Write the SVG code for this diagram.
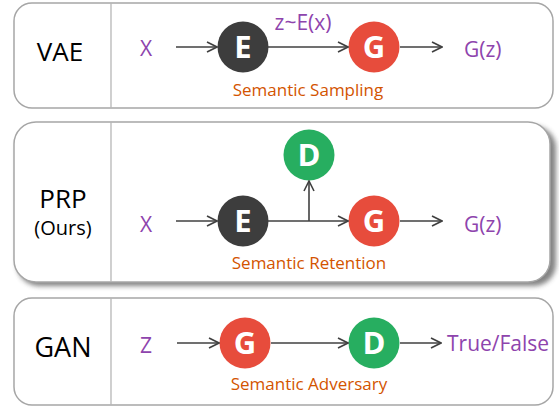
<svg xmlns="http://www.w3.org/2000/svg" width="559" height="407" viewBox="0 0 559 407">
<defs>
<marker id="arr" viewBox="0 0 12 12" refX="11" refY="6" markerWidth="12" markerHeight="12" markerUnits="userSpaceOnUse" orient="auto">
<path d="M1,1 L11,6 L1,11" fill="none" stroke="#404040" stroke-width="1.6"/>
</marker>
<filter id="sh" x="-5%" y="-10%" width="115%" height="130%">
<feGaussianBlur stdDeviation="2.5"/>
</filter>
</defs>
<style>
.box{fill:#fff;stroke:#a6a6a6;stroke-width:1.5}
.div{stroke:#b0b0b0;stroke-width:1.2}
.title{font-family:"Open Sans","Liberation Sans",sans-serif;fill:#000;text-anchor:middle}
.var{font-family:"Open Sans","Liberation Sans",sans-serif;fill:#8e44ad;font-size:21px}
.lab{font-family:"Open Sans","Liberation Sans",sans-serif;fill:#d35400;font-size:17px;text-anchor:middle}
.let{font-family:"Open Sans","Liberation Sans",sans-serif;fill:#fff;font-size:31px;font-weight:bold;text-anchor:middle}
.edge{stroke:#404040;stroke-width:1.6;fill:none;marker-end:url(#arr)}
</style>
<g id="panel-vae">
<rect class="box" x="14" y="3" width="539" height="105" rx="18"/>
<line class="div" x1="111" y1="3.5" x2="111" y2="107.5"/>
<text class="title" x="60" y="61" font-size="26">VAE</text>
<text class="var" x="146" y="56" text-anchor="middle">X</text>
<text class="var" x="303" y="30" text-anchor="middle" font-size="19">z~E(x)</text>
<text class="var" x="464" y="57" text-anchor="start" font-size="22">G(z)</text>
<text class="lab" x="308" y="96">Semantic Sampling</text>
</g>
<g id="vae-E"><circle cx="243" cy="47" r="25.5" fill="#3d3d3d"/><text class="let" x="243" y="58">E</text></g>
<g id="vae-G"><circle cx="374" cy="47" r="25.5" fill="#e74c3c"/><text class="let" x="374" y="58">G</text></g>

<g id="panel-prp">
<rect x="17" y="126" width="539" height="160" rx="22" fill="#6e6e6e" opacity="0.85" filter="url(#sh)"/>
<rect class="box" x="14" y="122" width="536" height="160" rx="22"/>
<line class="div" x1="111" y1="122.5" x2="111" y2="281.5"/>
<text class="title" x="63" y="208" font-size="26">PRP</text>
<text class="title" x="63" y="235" font-size="20">(Ours)</text>
<text class="var" x="146" y="232" text-anchor="middle">X</text>
<text class="var" x="464" y="232" text-anchor="start" font-size="22">G(z)</text>
<text class="lab" x="309" y="269">Semantic Retention</text>
</g>
<g id="prp-E"><circle cx="243" cy="221" r="25.5" fill="#3d3d3d"/><text class="let" x="243" y="232">E</text></g>
<g id="prp-G"><circle cx="374" cy="221" r="25.5" fill="#e74c3c"/><text class="let" x="374" y="232">G</text></g>
<g id="prp-D"><circle cx="309" cy="155" r="25.5" fill="#27ae60"/><text class="let" x="309" y="166">D</text></g>

<g id="panel-gan">
<rect class="box" x="14" y="298" width="539" height="107" rx="18"/>
<line class="div" x1="111" y1="298.5" x2="111" y2="404.5"/>
<text class="title" x="63" y="357" font-size="27">GAN</text>
<text class="var" x="146" y="353" text-anchor="middle">Z</text>
<text class="var" x="447" y="351" text-anchor="start" font-size="17.5">True/False</text>
<text class="lab" x="309" y="390">Semantic Adversary</text>
</g>
<g id="gan-G"><circle cx="245" cy="343" r="25.5" fill="#e74c3c"/><text class="let" x="245" y="354">G</text></g>
<g id="gan-D"><circle cx="374" cy="343" r="25.5" fill="#27ae60"/><text class="let" x="374" y="354">D</text></g>

<g id="connectors">
<line class="edge" x1="176" y1="47" x2="217" y2="47"/>
<line class="edge" x1="268" y1="47" x2="348" y2="47"/>
<line class="edge" x1="400" y1="47" x2="442" y2="47"/>
<line class="edge" x1="176" y1="221" x2="217" y2="221"/>
<line class="edge" x1="268" y1="221" x2="348" y2="221"/>
<line class="edge" x1="309" y1="221" x2="309" y2="181"/>
<line class="edge" x1="400" y1="221" x2="442" y2="221"/>
<line class="edge" x1="177" y1="343" x2="219" y2="343"/>
<line class="edge" x1="271" y1="343" x2="348" y2="343"/>
<line class="edge" x1="400" y1="343" x2="441" y2="343"/>
</g>
</svg>
